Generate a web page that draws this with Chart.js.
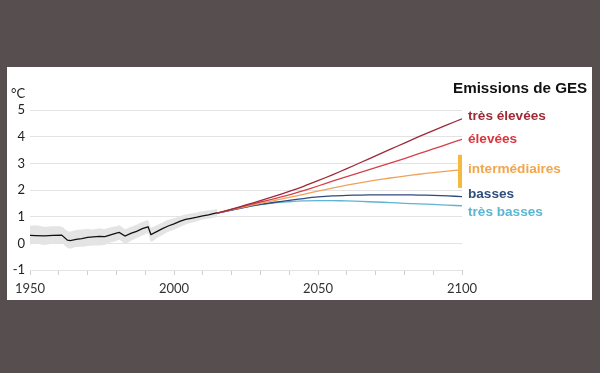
<!DOCTYPE html>
<html>
<head>
<meta charset="utf-8">
<script src="https://cdn.jsdelivr.net/npm/chart.js@4.4.1/dist/chart.umd.min.js"></script>
<style>
html,body{margin:0;padding:0;background:#574e4f;}
#wrap{position:absolute;left:0;top:0;width:600px;height:373px;}
</style>
</head>
<body>
<div id="wrap"><canvas id="c" width="600" height="373"></canvas></div>
<script>
// ---- data ----
const histYears = [1950,1952,1955,1958,1961,1963,1964,1966,1968,1970,1972,1974,1976,1978,1980,1981,1983,1985,1987,1989,1991,1992,1994,1996,1998,2000,2002,2004,2006,2008,2010,2012,2014,2015];
const histTemp  = [0.30,0.29,0.28,0.30,0.31,0.12,0.10,0.15,0.18,0.22,0.24,0.26,0.25,0.32,0.38,0.41,0.27,0.37,0.45,0.55,0.62,0.33,0.44,0.55,0.65,0.73,0.82,0.90,0.94,0.98,1.03,1.07,1.12,1.14];
const histUpper = [0.66,0.68,0.62,0.64,0.62,0.46,0.44,0.50,0.52,0.54,0.52,0.57,0.54,0.60,0.64,0.68,0.54,0.62,0.70,0.80,0.86,0.60,0.68,0.78,0.88,0.94,1.02,1.08,1.12,1.16,1.20,1.24,1.27,1.29];
const histLower = [-0.04,-0.02,-0.06,-0.02,0.00,-0.17,-0.20,-0.14,-0.13,-0.10,-0.08,-0.08,-0.05,0.03,0.09,0.13,-0.01,0.09,0.19,0.29,0.37,0.07,0.19,0.31,0.43,0.51,0.61,0.71,0.77,0.83,0.89,0.93,0.97,1.00];

const projYears    = [2015,2020,2025,2030,2035,2040,2045,2050,2055,2060,2065,2070,2075,2080,2085,2090,2095,2100];
const tresElevees  = [1.13,1.28,1.44,1.60,1.77,1.95,2.14,2.35,2.57,2.80,3.04,3.28,3.52,3.76,4.00,4.23,4.45,4.67];
const elevees      = [1.13,1.27,1.41,1.55,1.68,1.82,1.98,2.15,2.33,2.50,2.67,2.84,3.01,3.18,3.36,3.54,3.72,3.90];
const intermed     = [1.13,1.26,1.38,1.50,1.61,1.72,1.84,1.96,2.07,2.18,2.28,2.37,2.45,2.52,2.59,2.65,2.71,2.76];
const basses       = [1.13,1.25,1.36,1.46,1.54,1.61,1.68,1.74,1.78,1.80,1.81,1.82,1.82,1.82,1.81,1.80,1.78,1.75];
const tresBasses   = [1.13,1.25,1.36,1.45,1.52,1.56,1.59,1.60,1.60,1.59,1.57,1.55,1.53,1.50,1.48,1.46,1.43,1.41];
const intermedRange = [2.08, 3.32];

const scenarioNames = ['très élevées','élevées','intermédiaires','basses','très basses'];
const yTicks = [-1,0,1,2,3,4,5];
const xLabelYears = [1950,2000,2050,2100];

// ---- styles ----
const colLines  = ['#9b2a3a','#d6404a','#efa35a','#2f4a7e','#5fb3d4'];
const colLabels = ['#9e2a34','#d9363e','#f2a54a','#2e4e7e','#5ab6d3'];
const labelY    = [116,139,169,194,212];

const pts = (xs, ys) => xs.map((x,i)=>({x:x,y:ys[i]}));

const bgPlugin = {
  id:'bg',
  beforeDraw(chart){
    const ctx = chart.ctx;
    ctx.save();
    ctx.fillStyle = '#574e4f';
    ctx.fillRect(0,0,chart.width,chart.height);
    ctx.fillStyle = '#ffffff';
    ctx.fillRect(7,67,585,233);
    ctx.restore();
  },
  afterDatasetsDraw(chart){
    const ctx = chart.ctx, ys = chart.scales.y, xs = chart.scales.x;
    const x = xs.getPixelForValue(2100);
    const y1 = ys.getPixelForValue(intermedRange[1]);
    const y0 = ys.getPixelForValue(intermedRange[0]);
    ctx.save();
    ctx.fillStyle = '#f6b93b';
    ctx.fillRect(x-4, y1, 4, y0-y1);
    ctx.restore();
  },
  afterDraw(chart){
    const ctx = chart.ctx;
    ctx.save();
    ctx.textBaseline = 'middle';
    ctx.textAlign = 'left';
    ctx.fillStyle = '#222';
    ctx.font = '13px Lato';
    ctx.fillText('°C', 11, 94);
    ctx.fillStyle = '#111';
    ctx.font = 'bold 15.2px "Liberation Sans", Arial, sans-serif';
    ctx.fillText('Emissions de GES', 453, 89);
    ctx.font = 'bold 13.6px "Liberation Sans", Arial, sans-serif';
    scenarioNames.forEach((n,i)=>{
      ctx.fillStyle = colLabels[i];
      ctx.fillText(n, 468, labelY[i]);
    });
    ctx.restore();
  }
};

const lineDs = (label, data, color) => ({
  label, data: pts(projYears, data), borderColor: color, borderWidth: 1.3,
  pointRadius: 0, fill: false, tension: 0.3, order: 1
});

new Chart(document.getElementById('c'), {
  type: 'line',
  data: {
    datasets: [
      {label:'upper', data: pts(histYears, histUpper), borderWidth:0, borderColor:'rgba(0,0,0,0)', backgroundColor:'#e4e4e4', pointRadius:0, fill:'+1', tension:0.3, order: 10},
      {label:'lower', data: pts(histYears, histLower), borderWidth:0, borderColor:'rgba(0,0,0,0)', pointRadius:0, fill:false, tension:0.3, order: 11},
      {label:'hist', data: pts(histYears, histTemp), borderColor:'#111', borderWidth:1.3, pointRadius:0, fill:false, tension:0, order: 0},
      lineDs(scenarioNames[0], tresElevees, colLines[0]),
      lineDs(scenarioNames[1], elevees, colLines[1]),
      lineDs(scenarioNames[2], intermed, colLines[2]),
      lineDs(scenarioNames[3], basses, colLines[3]),
      lineDs(scenarioNames[4], tresBasses, colLines[4])
    ]
  },
  options: {
    responsive: false,
    animation: false,
    layout: {padding: {left:0, top:110, right:138, bottom:0}},
    plugins: {legend:{display:false}, tooltip:{enabled:false}},
    scales: {
      x: {
        type:'linear', min:1950, max:2100,
        afterFit(s){ s.height = 103; },
        afterBuildTicks(s){ const t=[]; for(let v=1950; v<=2100; v+=10) t.push({value:v}); s.ticks = t; },
        ticks: {autoSkip:false, maxRotation:0, padding:6, color:'#333', font:{family:'Lato', size:13},
          callback: v => xLabelYears.includes(v) ? String(v) : ''},
        grid: {drawOnChartArea:false, drawTicks:true, tickLength:5, color:'#cfcfcf'},
        border: {display:false}
      },
      y: {
        min:-1, max:5,
        afterFit(s){ s.width = 30; },
        afterBuildTicks(s){ s.ticks = yTicks.map(v=>({value:v})); },
        ticks: {padding:5, color:'#222', font:{family:'Lato', size:13}},
        grid: {drawTicks:false, color:'#e3e3e3'},
        border: {display:false}
      }
    }
  },
  plugins: [bgPlugin]
});
</script>
</body>
</html>
